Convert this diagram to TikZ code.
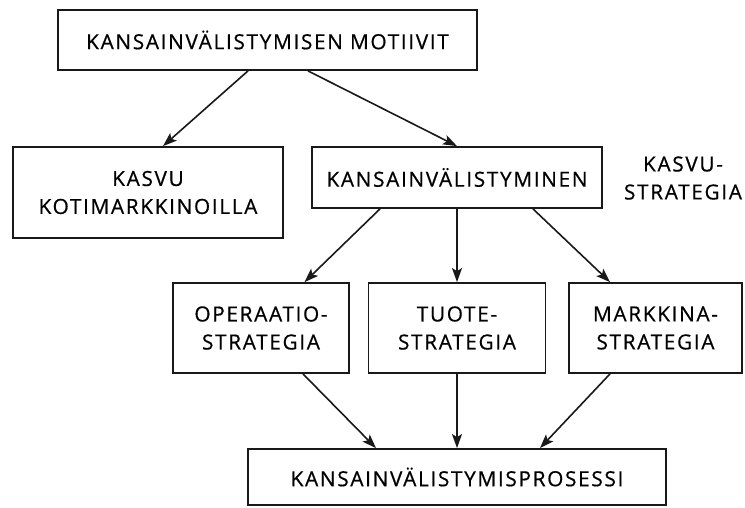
\documentclass[tikz,border=0pt]{standalone}
\usepackage{fontspec}
\usetikzlibrary{arrows.meta}
\newfontfamily\labelfont[LetterSpace=8,FakeBold=0.6]{Open Sans}
\begin{document}
\begin{tikzpicture}[x=1pt,y=-1pt,
  box/.style={draw=black!90, line width=1.8pt, inner sep=0pt, align=center,
    font=\labelfont\fontsize{20.8}{28}\selectfont},
  plain/.style={inner sep=0pt, align=center, font=\labelfont\fontsize{20.8}{28}\selectfont},
  arr/.style={line width=1.6pt, draw=black!90,
    -{Stealth[length=14pt,width=10pt,inset=3pt]}}]
  \useasboundingbox (0,0) rectangle (745,508);

  % boxes
  \node[box, minimum width=419pt, minimum height=60pt] (motiivit) at (267.5,40) {KANSAINVÄLISTYMISEN MOTIIVIT};
  \node[box, minimum width=270pt, minimum height=91pt] (koti) at (148,192.5) {KASVU\\KOTIMARKKINOILLA};
  \node[box, minimum width=290pt, minimum height=61pt] (kans) at (457,177.5) {KANSAINVÄLISTYMINEN};
  \node[plain] (kasvustrat) at (683,178) {KASVU-\\STRATEGIA};
  \node[box, minimum width=176pt, minimum height=90pt] (oper) at (261,328) {OPERAATIO-\\STRATEGIA};
  \node[box, minimum width=177pt, minimum height=90pt] (tuote) at (457,328) {TUOTE-\\STRATEGIA};
  \node[box, minimum width=173pt, minimum height=90pt] (mark) at (655.5,328) {MARKKINA-\\STRATEGIA};
  \node[box, minimum width=418pt, minimum height=56pt] (prosessi) at (457,477) {KANSAINVÄLISTYMISPROSESSI};

  % connectors
  \draw[arr] ([xshift=-19.5pt]motiivit.south) -- ([xshift=15pt]koti.north);
  \draw[arr] ([xshift=40.5pt]motiivit.south) -- (kans.north);
  \draw[arr] ([xshift=-77pt]kans.south) -- ([xshift=43.5pt]oper.north);
  \draw[arr] (kans.south) -- (tuote.north);
  \draw[arr] ([xshift=76pt]kans.south) -- ([xshift=-45.5pt]mark.north);
  \draw[arr] ([xshift=42pt]oper.south) -- ([xshift=-81pt]prosessi.north);
  \draw[arr] (tuote.south) -- (prosessi.north);
  \draw[arr] ([xshift=-45.5pt]mark.south) -- ([xshift=83pt]prosessi.north);
\end{tikzpicture}
\end{document}
